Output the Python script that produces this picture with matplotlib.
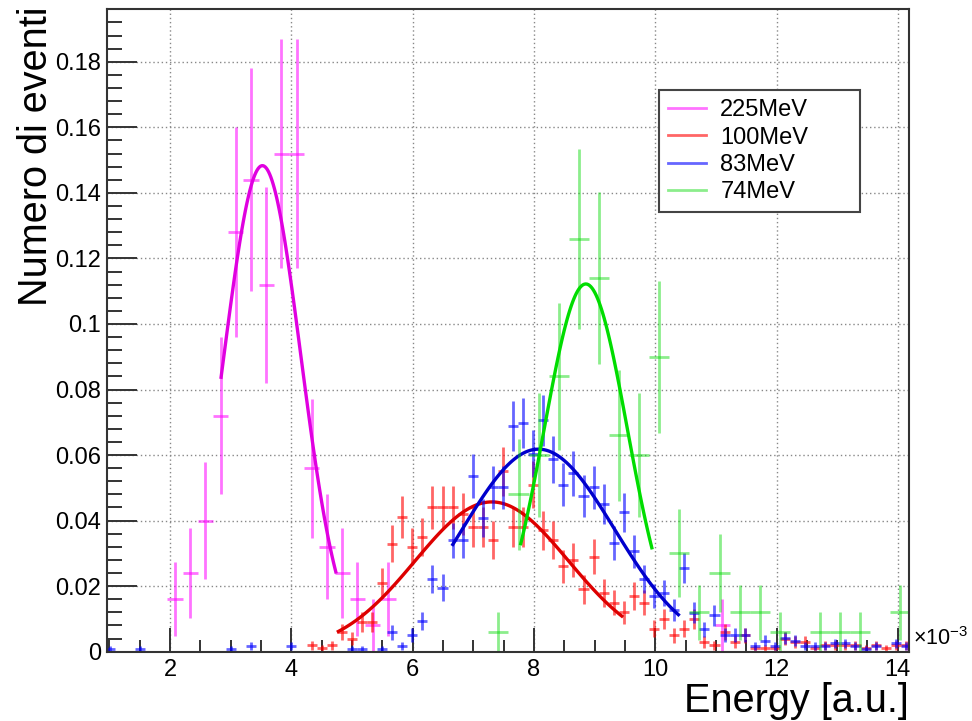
import numpy as np
import matplotlib
matplotlib.use("Agg")
from matplotlib import pyplot as plt
from matplotlib.lines import Line2D
from matplotlib.ticker import MultipleLocator, FuncFormatter

plt.rcParams["font.family"] = ["Liberation Sans", "DejaVu Sans"]
plt.rcParams["mathtext.fontset"] = "custom"
plt.rcParams["mathtext.rm"] = "Liberation Sans"
plt.rcParams["mathtext.default"] = "regular"

labels = ["225MeV", "100MeV", "83MeV", "74MeV"]

# histogram binning (energy in units of 1e-3): first bin centre, bin width
first_bin = [2.082, 1.011, 1.011, 7.414]
bin_width = [0.2507, 0.1661, 0.1661, 0.3315]
first_index = [0, 20, 0, 0]
# weight of one event (normalised histograms)
event_weight = [0.008, 0.001, 0.00085, 0.006]

# counts per bin
counts_225 = [2, 3, 5, 9, 16, 18, 14, 19, 19, 7, 4, 3, 2, 1, 2,
              0, 0, 0, 0, 0, 0, 0, 0, 0, 0, 0, 0, 0, 0, 0, 0, 0, 0, 0, 0, 0, 1]
counts_100 = [2, 1, 2, 6, 4, 9, 9, 21, 33, 41, 32, 35, 44, 44, 44, 42, 38, 38, 34, 55,
              38, 38, 51, 37, 34, 26, 28, 19, 29, 18, 15, 12, 17, 15, 7, 10, 5, 7, 10, 3,
              2, 6, 3, 5, 1, 1, 1, 4, 3, 3, 1, 2, 2, 2, 2, 1, 2, 1, 2, 2]
counts_83 = [1, 0, 0, 1, 0, 0, 0, 0, 0, 0, 0, 0, 1, 0, 2, 0, 0, 0, 2, 0,
             0, 0, 0, 0, 1, 1, 0, 1, 7, 2, 6, 11, 26, 23, 40, 40, 63, 48, 59, 59,
             81, 82, 71, 83, 69, 60, 64, 56, 59, 53, 39, 50, 36, 26, 20, 21, 15, 30, 14, 8,
             13, 6, 6, 6, 2, 4, 2, 5, 4, 2, 2, 2, 3, 3, 2, 1, 2, 0, 3, 2]
counts_74 = [1, 8, 10, 14, 21, 19, 11, 10, 15, 5, 2, 4, 2, 2, 1, 0, 1, 1, 1, 0, 2]
all_counts = [counts_225, counts_100, counts_83, counts_74]

# gaussian fits: amplitude, mean, sigma, fit range
fit_amp = [0.1483, 0.0457, 0.0618, 0.1122]
fit_mean = [3.522, 7.305, 8.074, 8.855]
fit_sigma = [0.637, 1.265, 1.252, 0.685]
fit_lo = [2.841, 4.775, 6.662, 7.783]
fit_hi = [4.733, 9.449, 10.382, 9.944]

hist_colors = [(1, 0, 1, 0.55), (1, 0, 0, 0.6), (0, 0, 1, 0.6), (0, 0.85, 0, 0.45)]
fit_colors = ["#e000e0", "#dd0000", "#0000cc", "#00dd00"]

fig = plt.figure(figsize=(9.72, 7.21), dpi=100)
ax = fig.add_axes([0.1098, 0.0961, 0.8257, 0.8910])

for i in range(4):
    n = np.array(all_counts[i], dtype=float)
    idx = np.arange(len(n)) + first_index[i]
    x = first_bin[i] + idx * bin_width[i]
    keep = n > 0
    y = n * event_weight[i]
    err = np.sqrt(n) * event_weight[i]
    ax.errorbar(x[keep], y[keep], xerr=bin_width[i] / 2, yerr=err[keep], fmt="none",
                ecolor=hist_colors[i], elinewidth=2, capsize=0)
    xf = np.linspace(fit_lo[i], fit_hi[i], 100)
    yf = fit_amp[i] * np.exp(-0.5 * ((xf - fit_mean[i]) / fit_sigma[i]) ** 2)
    ax.plot(xf, yf, color=fit_colors[i], lw=2.4)

ax.set_xlim(0.955, 14.19)
ax.set_ylim(0, 0.196)
ax.xaxis.set_major_locator(MultipleLocator(2))
ax.xaxis.set_minor_locator(MultipleLocator(0.5))
ax.yaxis.set_major_locator(MultipleLocator(0.02))
ax.yaxis.set_minor_locator(MultipleLocator(0.004))
ax.yaxis.set_major_formatter(FuncFormatter(lambda v, p: "%g" % round(v, 4)))
ax.xaxis.set_major_formatter(FuncFormatter(lambda v, p: "%g" % round(v, 4)))

ax.tick_params(which="both", direction="in", colors="#333333", width=1.4,
               labelsize=17, labelcolor="black", top=False, right=False)
ax.tick_params(axis="x", which="major", length=17, pad=5)
ax.tick_params(axis="x", which="minor", length=8.5)
ax.tick_params(axis="y", which="major", length=21.5, pad=4)
ax.tick_params(axis="y", which="minor", length=10.8)
ax.grid(True, which="major", color="#888888", linestyle=(0, (1, 2)), lw=1)
ax.set_axisbelow(True)
for s in ax.spines.values():
    s.set_color("#333333")
    s.set_linewidth(1.5)

ax.set_ylabel("Numero di eventi", fontsize=28.5, loc="top")
ax.yaxis.set_label_coords(-0.064, 1.005)
ax.set_xlabel("Energy [a.u.]", fontsize=28.5, loc="right")
ax.xaxis.set_label_coords(1.0, -0.047)

ax.text(1.005, 0.0104, r"×10$^{-3}$", transform=ax.transAxes, fontsize=15.5,
        ha="left", va="baseline")

handles = [Line2D([], [], color=c, lw=2) for c in hist_colors]
leg = ax.legend(handles, labels, loc="upper left",
                bbox_to_anchor=(0.688, 0.6887, 0.2506, 0.1857), mode="expand",
                fontsize=17, frameon=True, fancybox=False, framealpha=1,
                edgecolor="#444444", handlelength=1.6, handletextpad=0.6,
                labelspacing=0.22, borderpad=0.4, borderaxespad=0)
leg.get_frame().set_linewidth(1.5)
leg.set_zorder(5)

fig.savefig("out.png", dpi=100)
